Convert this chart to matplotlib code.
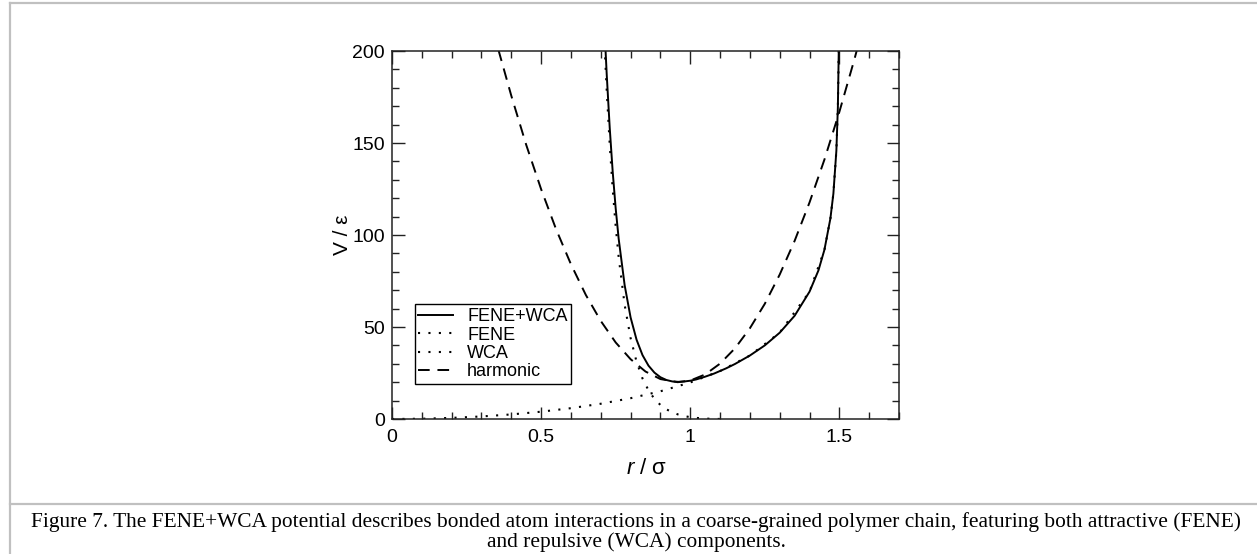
import matplotlib
matplotlib.use('Agg')
import matplotlib.pyplot as plt
from matplotlib.lines import Line2D
from matplotlib.ticker import MultipleLocator

# === 数据 ===
r_total = [0.71, 0.716, 0.72, 0.73, 0.74, 0.75, 0.76, 0.78, 0.80, 0.82, 0.84, 0.86, 0.88,
           0.90, 0.92, 0.94, 0.96, 0.98, 1.00, 1.02, 1.05, 1.08, 1.10, 1.12, 1.15, 1.20,
           1.25, 1.30, 1.35, 1.40, 1.43, 1.45, 1.47, 1.48, 1.49, 1.495, 1.498]
v_total = [222.1, 200.4, 187.2, 158.3, 134.4, 114.5, 98.0, 72.8, 55.2, 43.1, 34.7, 29.0, 25.2,
           22.7, 21.2, 20.4, 20.2, 20.4, 20.8, 21.5, 23.0, 24.7, 26.1, 27.5, 29.9, 34.5,
           40.0, 46.9, 56.1, 69.2, 80.8, 92.0, 109.0, 122.5, 145.8, 169.2, 200.1]

r_fene = [0.0, 0.1, 0.2, 0.3, 0.4, 0.5, 0.6, 0.7, 0.8, 0.9, 1.0, 1.1, 1.2, 1.3, 1.4,
          1.45, 1.47, 1.48, 1.49, 1.495, 1.498]
v_fene = [0.0, 0.15, 0.61, 1.38, 2.49, 3.97, 5.88, 8.29, 11.3, 15.06, 19.84, 26.05, 34.48,
          46.94, 69.15, 91.96, 108.98, 122.54, 145.83, 169.16, 200.05]

r_wca = [0.71, 0.716, 0.72, 0.73, 0.74, 0.75, 0.76, 0.78, 0.80, 0.82, 0.84, 0.86, 0.88,
         0.90, 0.92, 0.94, 0.96, 0.98, 1.00, 1.02, 1.05, 1.08, 1.10, 1.12]
v_wca = [213.5, 191.7, 178.4, 149.2, 125.0, 104.8, 88.0, 62.1, 44.0, 31.1, 22.0, 15.6, 10.9,
         7.64, 5.28, 3.61, 2.42, 1.58, 1.0, 0.6, 0.24, 0.07, 0.02, 0.0]

r_harm = [0.34, 0.36, 0.40, 0.45, 0.50, 0.55, 0.60, 0.65, 0.70, 0.75, 0.80, 0.85, 0.90, 0.958,
          1.00, 1.05, 1.10, 1.15, 1.20, 1.25, 1.30, 1.35, 1.40, 1.45, 1.50, 1.55, 1.58]
v_harm = [210.9, 198.8, 175.7, 149.0, 124.9, 103.2, 84.1, 67.4, 53.3, 41.6, 32.5, 25.8, 21.7, 20.0,
          20.9, 24.2, 30.1, 38.4, 49.3, 62.6, 78.5, 96.8, 117.7, 141.0, 166.9, 195.2, 213.4]

legend_labels = ['FENE+WCA', 'FENE', 'WCA', 'harmonic']

caption_1 = ('Figure 7. The FENE+WCA potential describes bonded atom interactions in a coarse-grained '
             'polymer chain, featuring both attractive (FENE)')
caption_2 = 'and repulsive (WCA) components.'

# === 字体 ===
plt.rcParams['font.family'] = ['Liberation Sans', 'DejaVu Sans']
plt.rcParams['mathtext.fontset'] = 'custom'
plt.rcParams['mathtext.it'] = 'Liberation Sans:italic'
plt.rcParams['mathtext.rm'] = 'Liberation Sans'

W, H = 1257, 554
fig = plt.figure(figsize=(W / 100, H / 100), dpi=100)
ax = fig.add_axes([392 / W, 1 - 419 / H, 507 / W, 368 / H])

dot = (0, (1, 4))
ax.plot(r_total, v_total, color='black', lw=1.4, solid_joinstyle='round', label=legend_labels[0])
ax.plot(r_fene, v_fene, color='black', lw=1.5, ls=dot, label=legend_labels[1])
ax.plot(r_wca, v_wca, color='black', lw=1.5, ls=dot, label=legend_labels[2])
ax.plot(r_harm, v_harm, color='black', lw=1.4, ls=(0, (6, 4)), label=legend_labels[3])

ax.set_xlim(0, 1.7)
ax.set_ylim(0, 200)
ax.xaxis.set_major_locator(MultipleLocator(0.5))
ax.xaxis.set_minor_locator(MultipleLocator(0.1))
ax.yaxis.set_major_locator(MultipleLocator(50))
ax.yaxis.set_minor_locator(MultipleLocator(10))
ax.set_xticks([0, 0.5, 1, 1.5])
ax.set_xticklabels(['0', '0.5', '1', '1.5'])
ax.tick_params(which='both', direction='in', top=True, right=True, labelsize=14, width=1.0,
               color='#222222')
ax.tick_params(which='major', length=9)
ax.tick_params(axis='x', which='major', pad=7)
ax.tick_params(axis='y', which='major', pad=5)
ax.tick_params(which='minor', length=5)
for s in ax.spines.values():
    s.set_linewidth(1.1)
    s.set_color('#222222')

ax.set_xlabel('$r$ / σ', fontsize=16)
ax.xaxis.set_label_coords(0.503, -0.106)
ax.set_ylabel('V / ε', fontsize=15)
ax.yaxis.set_label_coords(-0.079, 0.5)

leg = ax.legend(loc='lower left', bbox_to_anchor=(0.045, 0.095), fontsize=13, frameon=True,
                fancybox=False, edgecolor='black', framealpha=1, borderaxespad=0,
                handlelength=1.9, handletextpad=0.8, labelspacing=0.08, borderpad=0.2)
leg.get_frame().set_linewidth(1.0)

# 外框 + 标题分隔线
gray = '#c0c0c0'
fig.add_artist(Line2D([10 / W, 10 / W], [0, 1 - 3 / H], color=gray, lw=1.6, transform=fig.transFigure))
fig.add_artist(Line2D([10 / W, 1], [1 - 3 / H, 1 - 3 / H], color=gray, lw=1.6, transform=fig.transFigure))
fig.add_artist(Line2D([10 / W, 1], [1 - 504 / H, 1 - 504 / H], color=gray, lw=1.6, transform=fig.transFigure))

fig.text(636 / W, 1 - 527 / H, caption_1, ha='center', va='baseline', fontsize=15.4,
         family=['Liberation Serif', 'DejaVu Serif'])
fig.text(636 / W, 1 - 547 / H, caption_2, ha='center', va='baseline', fontsize=15.4,
         family=['Liberation Serif', 'DejaVu Serif'])

fig.savefig('out.png', dpi=100, facecolor='white')
